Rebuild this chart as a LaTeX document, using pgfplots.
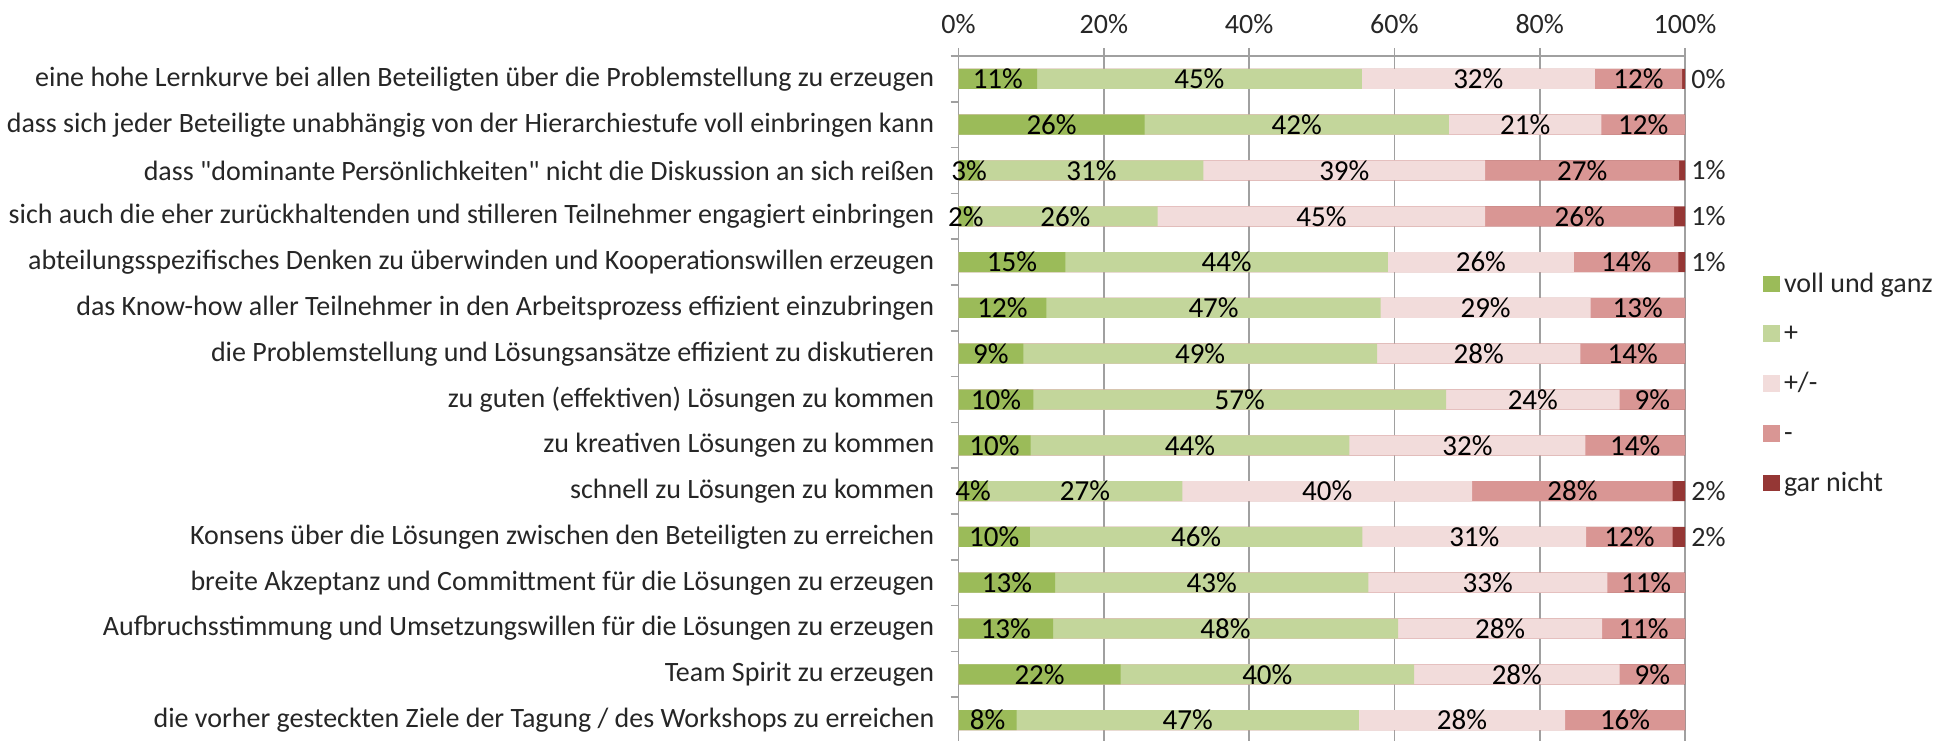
\documentclass[border=0pt]{standalone}
\usepackage{pgfplots}
\pgfplotsset{compat=1.18}
\usepackage{pgfplotstable}
\usepackage{fontspec}
\setmainfont{Carlito}[Ligatures=TeXOff]
\newcommand\cf{\fontsize{14pt}{16pt}\selectfont}
\definecolor{cV}{HTML}{9BBB59}
\definecolor{cP}{HTML}{C3D69B}
\definecolor{cN}{HTML}{F2DCDB}
\definecolor{cM}{HTML}{D99694}
\definecolor{cG}{HTML}{953735}
\definecolor{txt}{HTML}{262626}
\definecolor{gridc}{HTML}{A0A0A0}

\pgfplotstableread{
y  v    p    n    m    g    lv lp ln lm
14 10.8 44.7 32.1 12.0 0.4 11 45 32 12
13 25.6 41.9 21.0 11.5 0.0 26 42 21 12
12 2.9  30.8 38.8 26.7 0.8 3  31 39 27
11 2.0  25.4 45.1 26.0 1.5 2  26 45 26
10 14.7 44.4 25.6 14.4 0.9 15 44 26 14
9  12.1 46.0 28.9 13.0 0.0 12 47 29 13
8  8.9  48.7 28.0 14.4 0.0 9  49 28 14
7  10.3 56.8 23.9 9.0  0.0 10 57 24 9
6  9.9  43.9 32.5 13.7 0.0 10 44 32 14
5  4.0  26.8 39.9 27.6 1.7 4  27 40 28
4  9.8  45.8 30.8 11.9 1.7 10 46 31 12
3  13.3 43.1 32.9 10.7 0.0 13 43 33 11
2  13.0 47.5 28.1 11.4 0.0 13 48 28 11
1  22.3 40.4 28.3 9.0  0.0 22 40 28 9
0  8.0  47.1 28.4 16.5 0.0 8  47 28 16
}\data

\pgfplotstableread{
y  lg
14 0
12 1
11 1
10 1
5  2
4  2
}\garlab

\begin{document}
\begin{tikzpicture}
\path[use as bounding box] (0,0) rectangle (973.5pt,370pt);
\begin{axis}[
  at={(479.3pt,-1.5pt)}, anchor=south west,
  scale only axis, width=363.2pt, height=343.5pt,
  xmin=0, xmax=100, ymin=-0.5, ymax=14.5,
  axis x line*=top, axis y line*=left,
  axis line style={gridc, line width=0.8pt},
  xtick={0,20,40,60,80,100},
  xticklabel={\pgfmathparse{int(\tick)}\pgfmathresult\%},
  xticklabel style={font=\cf, text=txt, inner sep=0pt, anchor=south, yshift=7pt},
  xmajorgrids, grid style={gridc, line width=0.8pt},
  tick align=outside, major tick length=4pt, minor tick length=4pt,
  tick style={gridc, line width=0.8pt},
  every major y tick/.append style={draw=none},
  ytick={0,...,14},
  minor ytick={-0.5,0.5,...,14.5},
  yticklabels={
    {die vorher gesteckten Ziele der Tagung / des Workshops zu erreichen},
    {Team Spirit zu erzeugen},
    {Aufbruchsstimmung und Umsetzungswillen für die Lösungen zu erzeugen},
    {breite Akzeptanz und Committment für die Lösungen zu erzeugen},
    {Konsens über die Lösungen zwischen den Beteiligten zu erreichen},
    {schnell zu Lösungen zu kommen},
    {zu kreativen Lösungen zu kommen},
    {zu guten (effektiven) Lösungen zu kommen},
    {die Problemstellung und Lösungsansätze effizient zu diskutieren},
    {das Know-how aller Teilnehmer in den Arbeitsprozess effizient einzubringen},
    {abteilungsspezifisches Denken zu überwinden und Kooperationswillen erzeugen},
    {sich auch die eher zurückhaltenden und stilleren Teilnehmer engagiert einbringen},
    {dass "dominante Persönlichkeiten" nicht die Diskussion an sich reißen},
    {dass sich jeder Beteiligte unabhängig von der Hierarchiestufe voll einbringen kann},
    {eine hohe Lernkurve bei allen Beteiligten über die Problemstellung zu erzeugen}},
  yticklabel style={font=\cf, text=txt, inner sep=0pt, anchor=east, xshift=-8pt},
  legend style={draw=none, fill=none, inner sep=0pt, at={(1.1074,0.686)}, anchor=north west,
    font=\cf, text=txt, row sep=11.9pt,
    nodes={inner sep=0pt, text height=10pt, text depth=3pt, anchor=base west}},
  legend cell align=left,
  legend image code/.code={\fill[#1] (0pt,0pt) rectangle (8.3pt,8.3pt);},
  clip=false,
]
% legend entries in display order
\addlegendimage{fill=cV, draw=none}\addlegendentry{\hspace{2pt}voll und ganz}
\addlegendimage{fill=cP, draw=none}\addlegendentry{\hspace{2pt}+}
\addlegendimage{fill=cN, draw=none}\addlegendentry{\hspace{2pt}+/-}
\addlegendimage{fill=cM, draw=none}\addlegendentry{\hspace{2pt}-}
\addlegendimage{fill=cG, draw=none}\addlegendentry{\hspace{2pt}gar nicht}

% bars drawn as cumulative lengths, longest first
\addplot[xbar, bar width=10pt, bar shift=0pt, fill=cG, draw=none, forget plot]
  table[x expr=\thisrow{v}+\thisrow{p}+\thisrow{n}+\thisrow{m}+\thisrow{g}, y=y]{\data};
\addplot[xbar, bar width=10pt, bar shift=0pt, fill=cM, draw=none, forget plot]
  table[x expr=\thisrow{v}+\thisrow{p}+\thisrow{n}+\thisrow{m}, y=y]{\data};
\addplot[xbar, bar width=10pt, bar shift=0pt, fill=cN, draw=none, forget plot]
  table[x expr=\thisrow{v}+\thisrow{p}+\thisrow{n}, y=y]{\data};
\addplot[xbar, bar width=10pt, bar shift=0pt, fill=cP, draw=none, forget plot]
  table[x expr=\thisrow{v}+\thisrow{p}, y=y]{\data};
\addplot[xbar, bar width=10pt, bar shift=0pt, fill=cV, draw=none, forget plot]
  table[x=v, y=y]{\data};

% data labels centred in the segments
\pgfplotsset{lab/.style={draw=none, mark=none, forget plot, nodes near coords={\pgfplotspointmeta\%},
  point meta=explicit symbolic,
  every node near coord/.append style={anchor=center, font=\fontsize{14.5pt}{16pt}\selectfont, text=black, inner sep=0pt}}}
\addplot[lab] table[x expr=\thisrow{v}/2, y=y, meta=lv]{\data};
\addplot[lab] table[x expr=\thisrow{v}+\thisrow{p}/2, y=y, meta=lp]{\data};
\addplot[lab] table[x expr=\thisrow{v}+\thisrow{p}+\thisrow{n}/2, y=y, meta=ln]{\data};
\addplot[lab] table[x expr=\thisrow{v}+\thisrow{p}+\thisrow{n}+\thisrow{m}/2, y=y, meta=lm]{\data};
\addplot[draw=none, mark=none, forget plot, nodes near coords={\pgfplotspointmeta\%},
  point meta=explicit symbolic,
  every node near coord/.append style={anchor=west, font=\cf, text=txt, inner sep=0pt, xshift=3pt}]
  table[x expr=100, y=y, meta=lg]{\garlab};
\end{axis}
\end{tikzpicture}
\end{document}
